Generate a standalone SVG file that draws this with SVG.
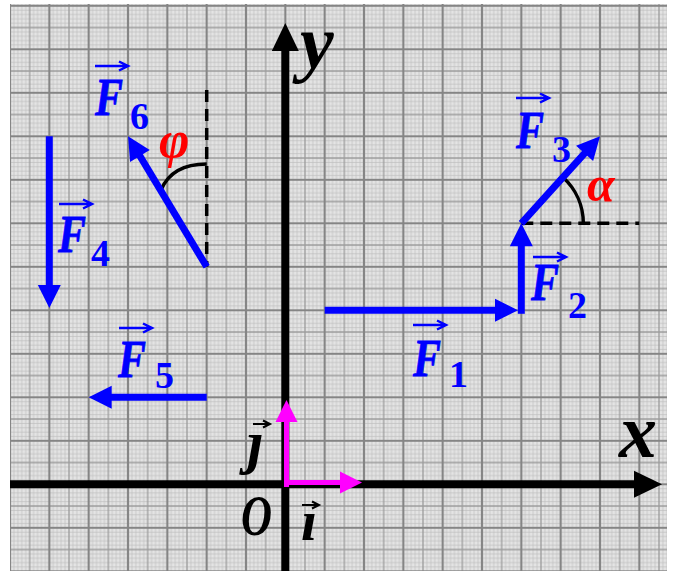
<svg xmlns="http://www.w3.org/2000/svg" xmlns:xlink="http://www.w3.org/1999/xlink" width="676" height="571" viewBox="0 0 676 571">
<style>
.vb{stroke:#0000ff;stroke-width:7;fill:none}
.ax{stroke:#000;stroke-width:8;fill:none}
.pk{stroke:#ff00ff;stroke-width:5;fill:none}
.dash{stroke:#000;stroke-width:3.5;stroke-dasharray:12 7;fill:none}
.arc{stroke:#000;stroke-width:3.5;fill:none}
.F{font-family:"Liberation Serif","DejaVu Serif",serif;font-weight:bold;font-style:italic;font-size:53px;fill:#0000ff;stroke:#0000ff;stroke-width:0.8}
.sub{font-family:"Liberation Serif","DejaVu Serif",serif;font-weight:bold;font-size:38px;fill:#0000ff}
.axl{font-family:"Liberation Serif","DejaVu Serif",serif;font-weight:bold;font-style:italic;fill:#000}
.gr{font-family:"Liberation Serif","DejaVu Serif",serif;font-weight:bold;font-style:italic;fill:#ff0000}
.oa{stroke:#0000ff;stroke-width:2.5;fill:none}
.oak{stroke:#000;stroke-width:2;fill:none}
</style>
<defs>
<pattern id="grid" patternUnits="userSpaceOnUse" x="10" y="5.8" width="39.333" height="43.5">
<rect width="39.333" height="43.5" fill="#e4e4e4"/>
<path d="M3.93,0V43.5M7.87,0V43.5M11.8,0V43.5M15.73,0V43.5M23.6,0V43.5M27.53,0V43.5M31.47,0V43.5M35.4,0V43.5M0,4.35H39.333M0,8.7H39.333M0,13.05H39.333M0,17.4H39.333M0,26.1H39.333M0,30.45H39.333M0,34.8H39.333M0,39.15H39.333" stroke="#bcbcbc" stroke-width="0.7"/>
<path d="M19.667,0V43.5M0,21.75H39.333" stroke="#9c9c9c" stroke-width="1.3"/>
<path d="M0,0V43.5M39.333,0V43.5M0,0H39.333M0,43.5H39.333" stroke="#858585" stroke-width="2.2"/>
</pattern>
<marker id="hb" viewBox="-24 -12 25 24" refX="-16" refY="0" markerWidth="25" markerHeight="24" markerUnits="userSpaceOnUse" orient="auto" overflow="visible">
<path d="M0,0L-23,-11.5L-23,11.5Z" fill="#0000ff"/>
</marker>
<marker id="hk" viewBox="-30 -14 31 28" refX="-24" refY="0" markerWidth="31" markerHeight="28" markerUnits="userSpaceOnUse" orient="auto" overflow="visible">
<path d="M0,0L-28,-13.5L-28,13.5Z" fill="#000"/>
</marker>
<marker id="hp" viewBox="-23 -12 24 24" refX="-18" refY="0" markerWidth="24" markerHeight="24" markerUnits="userSpaceOnUse" orient="auto" overflow="visible">
<path d="M0,0L-22,-11L-22,11Z" fill="#ff00ff"/>
</marker>
<path id="over" class="oa" d="M0,0H32M24,-4.5L33,0L24,4.5"/>
<path id="overk" class="oak" d="M0,0H16M10,-3.5L17,0L10,3.5"/>
</defs>

<g id="paper">
<rect x="10" y="4" width="657" height="567" fill="url(#grid)"/>
</g>

<g id="axes">
<line class="ax" x1="10" y1="484.3" x2="638" y2="484.3" marker-end="url(#hk)"/>
<line class="ax" x1="285.3" y1="571" x2="285.3" y2="47" marker-end="url(#hk)"/>
<text class="axl" x="300" y="68" font-size="76">y</text>
<text class="axl" x="619" y="457" font-size="76">x</text>
<text class="axl" x="241" y="535" font-size="57" textLength="31" lengthAdjust="spacingAndGlyphs">O</text>
</g>

<g id="unit-vectors">
<line class="pk" x1="286.5" y1="487" x2="286.5" y2="418" marker-end="url(#hp)"/>
<line class="pk" x1="284" y1="482.5" x2="344" y2="482.5" marker-end="url(#hp)"/>
<text class="axl" x="247" y="462" font-size="60">ȷ</text>
<use xlink:href="#overk" x="253" y="424"/>
<text class="axl" x="301" y="540" font-size="58">ı</text>
<use xlink:href="#overk" x="302" y="505"/>
</g>

<g id="guides">
<line class="dash" x1="206.7" y1="90" x2="206.7" y2="266.8"/>
<line class="dash" x1="521.3" y1="223.3" x2="639.3" y2="223.3"/>
<path class="arc" d="M583.3,223.3A62,62 0 0 0 562.9,177.3"/>
<path class="arc" d="M206.7,164Q172,164 161,190"/>
</g>

<g id="connectors">
<line class="vb" x1="324.7" y1="310.3" x2="502" y2="310.3" marker-end="url(#hb)"/>
<line class="vb" x1="521.3" y1="313.8" x2="521.3" y2="239.3" marker-end="url(#hb)"/>
<line class="vb" x1="521.3" y1="223.3" x2="589.3" y2="148.2" marker-end="url(#hb)"/>
<line class="vb" x1="49.3" y1="136.3" x2="49.3" y2="292" marker-end="url(#hb)"/>
<line class="vb" x1="206.7" y1="397.3" x2="104.7" y2="397.3" marker-end="url(#hb)"/>
<line class="vb" x1="206.7" y1="266.8" x2="136.3" y2="150" marker-end="url(#hb)"/>
</g>

<g id="F1">
<use xlink:href="#over" x="413" y="325"/>
<text class="F" x="413" y="376" textLength="28" lengthAdjust="spacingAndGlyphs">F</text>
<text class="sub" x="449" y="387">1</text>
</g>
<g id="F2">
<use xlink:href="#over" x="533" y="257"/>
<text class="F" x="531" y="300" textLength="28" lengthAdjust="spacingAndGlyphs">F</text>
<text class="sub" x="568" y="318">2</text>
</g>
<g id="F3">
<use xlink:href="#over" x="516" y="98"/>
<text class="F" x="516" y="148" textLength="28" lengthAdjust="spacingAndGlyphs">F</text>
<text class="sub" x="552" y="162">3</text>
</g>
<g id="F4">
<use xlink:href="#over" x="59" y="204"/>
<text class="F" x="58" y="252" textLength="28" lengthAdjust="spacingAndGlyphs">F</text>
<text class="sub" x="91" y="266">4</text>
</g>
<g id="F5">
<use xlink:href="#over" x="119" y="328"/>
<text class="F" x="118" y="377" textLength="28" lengthAdjust="spacingAndGlyphs">F</text>
<text class="sub" x="155" y="388">5</text>
</g>
<g id="F6">
<use xlink:href="#over" x="95" y="66"/>
<text class="F" x="95" y="115" textLength="28" lengthAdjust="spacingAndGlyphs">F</text>
<text class="sub" x="130" y="129">6</text>
</g>

<g id="angles">
<text class="gr" x="587" y="201" font-size="50">α</text>
<text class="gr" x="159" y="157" font-size="52">φ</text>
</g>
</svg>
